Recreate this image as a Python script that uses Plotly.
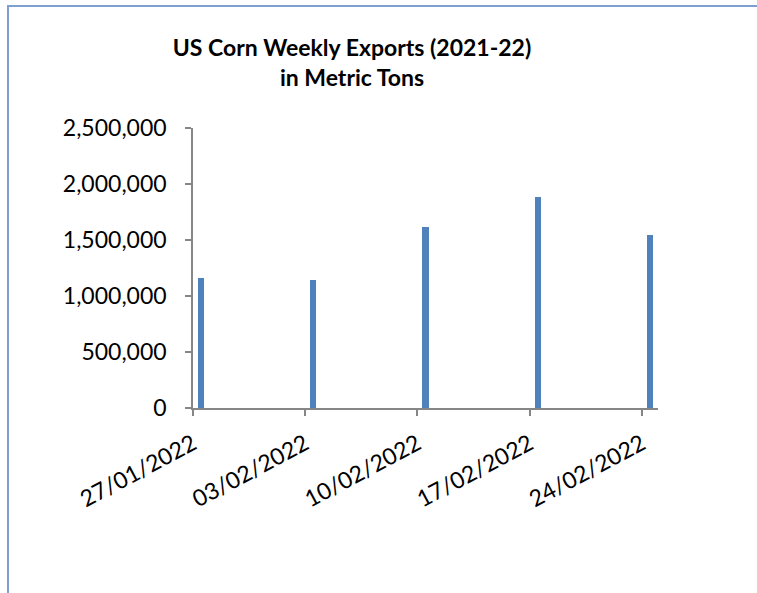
import plotly.graph_objects as go

dates = ["2022-01-27", "2022-02-03", "2022-02-10", "2022-02-17", "2022-02-24"]
tick_labels = ["27/01/2022", "03/02/2022", "10/02/2022", "17/02/2022", "24/02/2022"]
exports = [1163000, 1145000, 1613000, 1881000, 1545000]
y_ticks = [0, 500000, 1000000, 1500000, 2000000, 2500000]

W, H = 757, 593
L, R, T, B = 193, 658, 128, 408

DAY_MS = 86400000
# bars are centred in their day on a date axis (Excel style)
bar_x = [d + " 12:00" for d in dates]

fig = go.Figure()
fig.add_trace(go.Bar(
    x=bar_x, y=exports,
    width=[0.4 * DAY_MS] * len(dates),
    marker=dict(color="#4F81BD", line=dict(width=0)),
    hoverinfo="x+y",
))

axis_col = "#868686"
font_family = "Lato, Open Sans, sans-serif"

fig.update_layout(
    width=W, height=H, autosize=False,
    margin=dict(l=L, r=W - R, t=T, b=H - B, pad=0),
    paper_bgcolor="white", plot_bgcolor="white",
    showlegend=False,
    font=dict(family=font_family, color="#000000", size=23),
    title=dict(
        text="<b>US Corn Weekly Exports (2021-22)<br>in Metric Tons</b>",
        x=352 / W, xanchor="center", xref="container",
        y=1 - 56 / H, yanchor="middle", yref="container",
        font=dict(family=font_family, size=23, color="#000000"),
    ),
    xaxis=dict(
        type="date",
        range=["2022-01-27", "2022-02-25"],
        tickvals=dates, ticktext=tick_labels,
        tickangle=-28,
        ticks="outside", ticklen=6, tickcolor=axis_col, tickwidth=1.5,
        showline=True, linecolor=axis_col, linewidth=1.5,
        showgrid=False, zeroline=False,
        tickfont=dict(size=23),
        ticklabelstandoff=6,
        fixedrange=True,
    ),
    yaxis=dict(
        range=[0, 2500000],
        tickvals=y_ticks, tickformat=",",
        ticks="outside", ticklen=6, tickcolor=axis_col, tickwidth=1.5,
        showline=True, linecolor=axis_col, linewidth=1.5,
        showgrid=False, zeroline=False,
        tickfont=dict(size=23),
        ticklabelstandoff=14,
        fixedrange=True,
    ),
    bargap=0,
)

# chart-area border (left and top edges visible in the reference)
pw = R - L
ph = B - T
def px_x(x):
    return (x - L) / pw
def px_y(y):
    return (B - y) / ph

border_col = "#7F9FD3"
fig.add_shape(type="line", xref="paper", yref="paper",
              x0=px_x(8), x1=px_x(8), y0=px_y(5), y1=px_y(H + 2),
              line=dict(color=border_col, width=2))
fig.add_shape(type="line", xref="paper", yref="paper",
              x0=px_x(7), x1=px_x(W + 2), y0=px_y(6), y1=px_y(6),
              line=dict(color=border_col, width=2))

fig.write_html("out.html", config={"displayModeBar": False},
               post_script="document.body.style.margin='0px';")
